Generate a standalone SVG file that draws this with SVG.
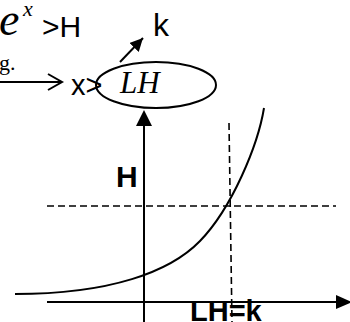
<svg xmlns="http://www.w3.org/2000/svg" width="350" height="322" viewBox="0 0 350 322">
<style>
.line{stroke:#000;stroke-width:2;fill:none}
.dash{stroke:#000;stroke-width:1.6;fill:none;stroke-dasharray:7 4}
.sans{font-family:"Liberation Sans",Arial,sans-serif;fill:#000}
.bold{font-family:"Liberation Sans",Arial,sans-serif;font-weight:bold;fill:#000}
.ital{font-family:"Liberation Serif","Times New Roman",serif;font-style:italic;fill:#000}
.serif{font-family:"Liberation Serif","Times New Roman",serif;fill:#000}
</style>
<defs>
<marker id="tri" viewBox="0 0 10 10" refX="10" refY="5" markerWidth="13" markerHeight="13" markerUnits="userSpaceOnUse" orient="auto">
<path d="M0,0 L10,5 L0,10 Z" fill="#000"/>
</marker>
</defs>
<rect width="350" height="322" fill="#fff"/>
<g id="formula">
<text class="ital" x="-1" y="35" font-size="46">e</text>
<text class="ital" x="23" y="16" font-size="22">x</text>
<text class="sans" x="42" y="37" font-size="30">&gt;H</text>
</g>
<g id="k-label"><text class="sans" x="153" y="36" font-size="32">k</text></g>
<g id="g-label"><text class="serif" x="-1" y="70" font-size="22">g.</text></g>
<g id="x-label"><text class="sans" x="71" y="95" font-size="29">x&gt;</text></g>
<g id="LH-node">
<ellipse cx="156" cy="85" rx="60" ry="23" class="line"/>
<text class="ital" x="120" y="93" font-size="31">LH</text>
</g>
<g id="H-label"><text class="bold" x="116" y="187" font-size="30">H</text></g>
<g id="LHk-label"><text class="bold" x="190" y="321" font-size="29">LH=k</text></g>
<g id="connectors">
<line x1="0" y1="82" x2="61" y2="82" class="line"/>
<polyline points="48,74 62,82 48,90" class="line"/>
<line x1="120" y1="62" x2="143" y2="38" stroke="#000" stroke-width="2" marker-end="url(#tri)"/>
<path d="M144,322 V124" class="line"/>
<path d="M136,126 L144,110 L152,126 Z" fill="#000"/>
<path d="M47,302 H338" class="line"/>
<path d="M336,295 L352,302 L336,309 Z" fill="#000"/>
<path d="M47,206 H336" class="dash"/>
<path d="M229,123 L232,322" class="dash"/>
<path d="M15,294 C110,294 170,272 200,241 C232,208 258,145 264,108" class="line"/>
</g>
</svg>
